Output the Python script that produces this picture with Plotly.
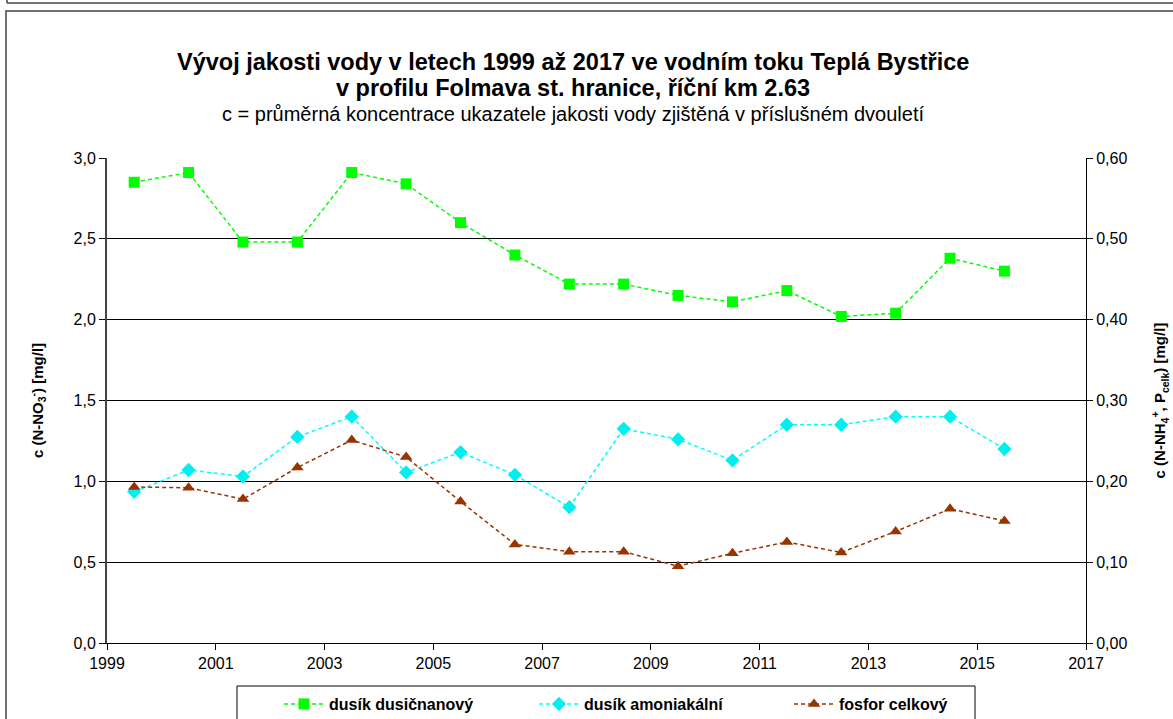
import plotly.graph_objects as go

years = [1999.5, 2000.5, 2001.5, 2002.5, 2003.5, 2004.5, 2005.5, 2006.5, 2007.5,
         2008.5, 2009.5, 2010.5, 2011.5, 2012.5, 2013.5, 2014.5, 2015.5]
dusicnanovy = [2.85, 2.91, 2.48, 2.48, 2.91, 2.84, 2.60, 2.40, 2.22,
               2.22, 2.15, 2.11, 2.18, 2.02, 2.04, 2.38, 2.30]
amoniakalni = [0.187, 0.214, 0.206, 0.255, 0.280, 0.211, 0.236, 0.208, 0.168,
               0.265, 0.252, 0.226, 0.270, 0.270, 0.280, 0.280, 0.240]
fosfor = [0.193, 0.192, 0.178, 0.217, 0.251, 0.230, 0.175, 0.122, 0.113,
          0.113, 0.095, 0.111, 0.125, 0.112, 0.138, 0.166, 0.151]
x_ticks = [1999, 2001, 2003, 2005, 2007, 2009, 2011, 2013, 2015, 2017]

FONT = "Liberation Sans, Arial, sans-serif"

fig = go.Figure()
fig.add_trace(go.Scatter(
    x=years, y=dusicnanovy, name="<b>dusík dusičnanový</b>", mode="lines+markers",
    line=dict(color="#00FF00", width=1.5, dash="4px,3px"),
    marker=dict(symbol="square", size=11, color="#00FF00"), yaxis="y"))
fig.add_trace(go.Scatter(
    x=years, y=amoniakalni, name="<b>dusík amoniakální</b>", mode="lines+markers",
    line=dict(color="#00FFFF", width=1.5, dash="4px,3px"),
    marker=dict(symbol="diamond", size=11, color="#00F0F0"), yaxis="y2"))
fig.add_trace(go.Scatter(
    x=years, y=fosfor, name="<b>fosfor celkový</b>", mode="lines+markers",
    line=dict(color="#993300", width=1.5, dash="4px,3px"),
    marker=dict(symbol="triangle-up", size=11, color="#993300"), yaxis="y2"))

W, H = 1173, 719
L, R, T, B = 107, 1086, 158, 643
pw, ph = R - L, B - T

def px(xp):
    return (xp - L) / pw

def py(yp):
    return (B - yp) / ph

fig.update_layout(
    width=W, height=H,
    margin=dict(l=L, r=W - R, t=T, b=H - B, pad=0, autoexpand=False),
    paper_bgcolor="white", plot_bgcolor="white",
    separators=", ",
    font=dict(family=FONT, size=16, color="black"),
    showlegend=True,
    legend=dict(orientation="h", xref="container", yref="container",
                x=279 / W, y=1 - 704 / H, xanchor="left", yanchor="middle",
                borderwidth=0, bgcolor="rgba(0,0,0,0)",
                font=dict(size=16, family=FONT), entrywidth=200,
                itemwidth=40, tracegroupgap=0),
    xaxis=dict(range=[1999, 2017], tickvals=x_ticks, ticks="outside", ticklen=6,
               tickcolor="black", showline=True, linecolor="black", linewidth=1,
               showgrid=False, zeroline=False, tickfont=dict(size=16)),
    yaxis=dict(range=[0, 3.0], dtick=0.5, tickformat=".1f", ticks="outside", ticklen=6,
               tickcolor="black", showline=True, linecolor="#444444", linewidth=2,
               showgrid=True, gridcolor="black", gridwidth=1, zeroline=False,
               tickfont=dict(size=16), automargin=False,
               title=dict(text="<b>c (N-NO<sub>3</sub><sup>-</sup>) [mg/l]</b>",
                          font=dict(size=15), standoff=26)),
    yaxis2=dict(range=[0, 0.6], dtick=0.1, tickformat=".2f", overlaying="y", side="right",
                ticks="outside", ticklen=6, tickcolor="black", showline=True,
                linecolor="black", linewidth=1, showgrid=False, zeroline=False,
                tickfont=dict(size=16), automargin=False,
                title=dict(text="<b>c (N-NH<sub>4</sub><sup>+</sup>, P<sub>celk</sub>) [mg/l]</b>",
                           font=dict(size=15), standoff=28)),
    annotations=[
        dict(text="<b>Vývoj jakosti vody v letech 1999 až 2017 ve vodním toku Teplá Bystřice</b>",
             x=px(573), y=py(62), xref="paper", yref="paper", showarrow=False,
             xanchor="center", yanchor="middle", font=dict(size=23.5, family=FONT)),
        dict(text="<b>v profilu Folmava st. hranice, říční km 2.63</b>",
             x=px(573), y=py(88), xref="paper", yref="paper", showarrow=False,
             xanchor="center", yanchor="middle", font=dict(size=23.5, family=FONT)),
        dict(text="c = průměrná koncentrace ukazatele jakosti vody zjištěná v příslušném dvouletí",
             x=px(573), y=py(114), xref="paper", yref="paper", showarrow=False,
             xanchor="center", yanchor="middle", font=dict(size=20, family=FONT)),
    ],
    shapes=[
        dict(type="rect", xref="paper", yref="paper", x0=px(6), x1=px(1180),
             y0=py(730), y1=py(11), line=dict(color="#444444", width=1.5), layer="below"),
        dict(type="line", xref="paper", yref="paper", x0=px(7), x1=px(1180),
             y0=py(3), y1=py(3), line=dict(color="#444444", width=1.5)),
        dict(type="line", xref="paper", yref="paper", x0=px(7), x1=px(7),
             y0=py(-5), y1=py(3), line=dict(color="#444444", width=1.5)),
        dict(type="rect", xref="paper", yref="paper", x0=px(237), x1=px(975),
             y0=py(730), y1=py(686), line=dict(color="black", width=1), layer="below"),
    ],
)

fig.write_html("out.html", config={"displayModeBar": False},
               post_script="document.body.style.margin='0';")
